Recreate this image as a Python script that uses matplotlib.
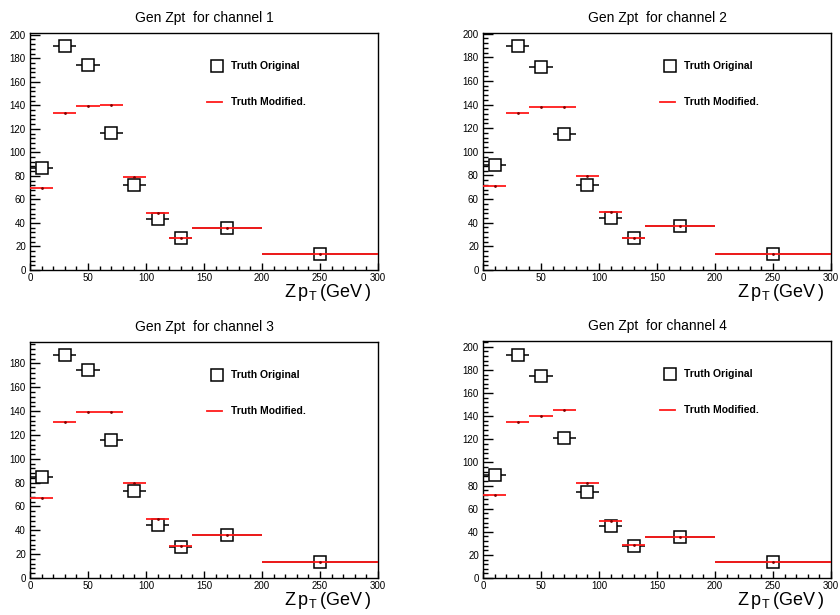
import matplotlib
matplotlib.use("Agg")
import matplotlib.pyplot as plt
import numpy as np
from matplotlib.ticker import MultipleLocator

plt.rcParams["font.family"] = ["Liberation Sans", "DejaVu Sans"]
plt.rcParams["mathtext.default"] = "regular"

# ---- data ----
bin_edges = [0, 20, 40, 60, 80, 100, 120, 140, 200, 300]

orig_ch1 = [86.8, 190.6, 173.9, 116.6, 72.1, 43.7, 27.0, 35.5, 13.9]
mod_ch1 = [69.5, 133.3, 139.3, 140.1, 79.1, 48.5, 27.0, 35.5, 13.9]

orig_ch2 = [89.1, 189.6, 171.8, 114.8, 72.2, 44.0, 26.8, 37.0, 13.3]
mod_ch2 = [71.4, 132.6, 137.7, 137.9, 79.5, 48.8, 27.4, 37.0, 13.3]

orig_ch3 = [84.8, 187.0, 174.2, 116.1, 72.8, 44.7, 26.0, 35.7, 13.1]
mod_ch3 = [67.5, 130.9, 139.3, 139.3, 80.1, 49.1, 26.5, 35.7, 13.1]

orig_ch4 = [89.5, 192.8, 174.7, 120.9, 74.8, 44.6, 27.9, 35.7, 13.5]
mod_ch4 = [71.4, 135.0, 139.9, 145.0, 82.3, 49.2, 28.2, 35.7, 13.5]

channels = [1, 2, 3, 4]
y_max = [201.5, 200.5, 198.0, 205.0]
titles = ["Gen Zpt  for channel %d" % c for c in channels]
legend_labels = ["Truth Original", "Truth Modified."]
x_label = "Z$\\,$p$_{T}$$\\,$(GeV$\\,$)"

orig_all = [orig_ch1, orig_ch2, orig_ch3, orig_ch4]
mod_all = [mod_ch1, mod_ch2, mod_ch3, mod_ch4]

edges = np.array(bin_edges, dtype=float)
centers = 0.5 * (edges[1:] + edges[:-1])
halfw = 0.5 * (edges[1:] - edges[:-1])

W, H = 840, 615
fig = plt.figure(figsize=(8.4, 6.15), dpi=100)

rects_px = [
    (30, 33, 378, 270),
    (483, 33, 831, 270),
    (30, 342, 378, 578),
    (483, 341, 831, 578),
]

for i, (l, t, r, b) in enumerate(rects_px):
    ax = fig.add_axes([l / W, 1 - b / H, (r - l) / W, (b - t) / H])
    # original: hollow squares with horizontal bin-width bars
    ax.errorbar(centers, orig_all[i], xerr=halfw, fmt="s", mfc="white",
                mec="black", mew=1.1, ms=8.0, ecolor="black", elinewidth=1.1,
                capsize=0, zorder=3)
    # modified: red horizontal bars with tiny centre dot
    ax.errorbar(centers, mod_all[i], xerr=halfw, fmt="o", ms=1.0,
                mfc="#800000", mec="#800000", ecolor="#ff1a1a",
                elinewidth=1.3, capsize=0, zorder=4)

    ax.set_xlim(0, 300)
    ax.set_ylim(0, y_max[i])
    ax.xaxis.set_major_locator(MultipleLocator(50))
    ax.xaxis.set_minor_locator(MultipleLocator(10))
    ax.yaxis.set_major_locator(MultipleLocator(20))
    ax.yaxis.set_minor_locator(MultipleLocator(4))
    ax.tick_params(axis="y", which="major", direction="in", length=7,
                   width=1.0, labelsize=7, pad=3, right=False)
    ax.tick_params(axis="y", which="minor", direction="in", length=3.5,
                   width=1.0, right=False)
    ax.tick_params(axis="x", which="major", direction="in", length=5,
                   width=1.0, labelsize=7, pad=2, top=False)
    ax.tick_params(axis="x", which="minor", direction="in", length=2.8,
                   width=1.0, top=False)
    for sp in ax.spines.values():
        sp.set_linewidth(1.0)

    ax.set_title(titles[i], fontsize=10, pad=8)
    ax.text(0.98, -0.095, x_label, transform=ax.transAxes, ha="right",
            va="center", fontsize=13)

    # legend
    ax.plot([0.537], [0.86], "s", mfc="white", mec="black", mew=1.1, ms=8.0,
            transform=ax.transAxes, clip_on=False)
    ax.text(0.577, 0.86, legend_labels[0], transform=ax.transAxes,
            ha="left", va="center", fontsize=7.5, fontweight="bold")
    ax.plot([0.509, 0.553], [0.707, 0.707], "-", color="#ff1a1a", lw=1.3,
            transform=ax.transAxes, clip_on=False)
    ax.text(0.577, 0.707, legend_labels[1], transform=ax.transAxes,
            ha="left", va="center", fontsize=7.5, fontweight="bold")

fig.savefig("out.png", dpi=100)
